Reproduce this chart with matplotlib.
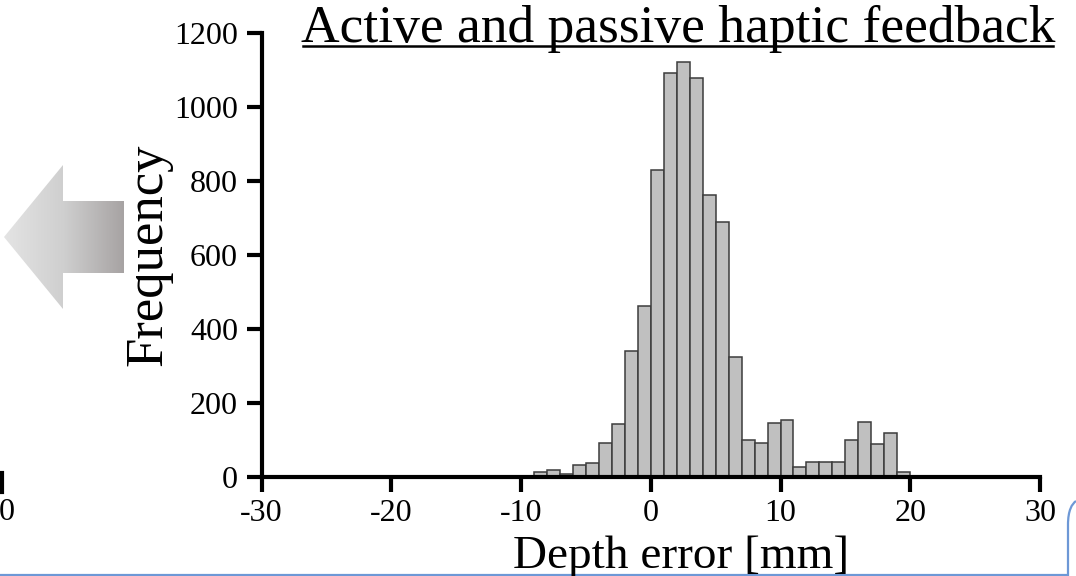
import numpy as np
import matplotlib
matplotlib.use('Agg')
from matplotlib import pyplot as plt
from matplotlib.patches import Polygon, PathPatch
from matplotlib.path import Path
from matplotlib.lines import Line2D

plt.rcParams['font.family'] = ['Liberation Serif', 'DejaVu Serif']
plt.rcParams['axes.unicode_minus'] = False

# 深度误差直方图数据（1 mm 一个区间，给出区间左端）
bin_left = [-9, -8, -7, -6, -5, -4, -3, -2, -1, 0, 1, 2, 3, 4, 5, 6, 7, 8, 9,
            10, 11, 12, 13, 14, 15, 16, 17, 18, 19]
counts = [12, 18, 6, 30, 36, 90, 142, 340, 460, 830, 1092, 1122, 1078, 762,
          688, 322, 100, 90, 145, 154, 25, 40, 40, 40, 100, 148, 88, 118, 12]
x_ticks = [-30, -20, -10, 0, 10, 20, 30]
y_ticks = [0, 200, 400, 600, 800, 1000, 1200]

W, H = 1076, 576


def fx(x):
    return x / W


def fy(y):
    return 1 - y / H


fig = plt.figure(figsize=(W / 100, H / 100), dpi=100)

# 背景层：幻灯片上的灰色箭头和蓝色边框
bg = fig.add_axes([0, 0, 1, 1], zorder=0)
bg.set_xlim(0, W)
bg.set_ylim(H, 0)
bg.axis('off')
arrow = Polygon([(4, 237), (63, 165), (63, 201), (124, 201), (124, 273),
                 (63, 273), (63, 309)], closed=True, facecolor='none',
                edgecolor='none')
bg.add_patch(arrow)
grad = np.linspace(0, 1, 256).reshape(1, -1)
cmap = matplotlib.colors.LinearSegmentedColormap.from_list(
    'g', ['#e4e4e4', '#cfcfcf', '#a7a3a3'])
img = bg.imshow(grad, extent=(4, 124, 309, 165), cmap=cmap, aspect='auto', zorder=1)
img.set_clip_path(arrow)
blue = Path([(0, 575), (1068, 575), (1068, 525), (1068, 510), (1072, 504), (1076, 501)],
            [Path.MOVETO, Path.LINETO, Path.LINETO, Path.CURVE4, Path.CURVE4, Path.CURVE4])
bg.add_patch(PathPatch(blue, facecolor='none', edgecolor='#6d98d6', lw=1.6))
bg.plot([1.5, 1.5], [473, 492], color='black', lw=3)
bg.text(15, 520, '0', fontsize=23, ha='right', va='baseline')

# 直方图
ax = fig.add_axes([fx(261.5), fy(476.5), (1040 - 261.5) / W, (476.5 - 32.7) / H], zorder=2)
ax.patch.set_alpha(0)
ax.bar(bin_left, counts, width=1, align='edge', color='#c0c0c0',
       edgecolor='#3c3c3c', linewidth=1.1)
ax.set_xlim(-30, 30)
ax.set_ylim(0, 1200)
ax.set_xticks(x_ticks)
ax.set_yticks(y_ticks)
ax.spines['top'].set_visible(False)
ax.spines['right'].set_visible(False)
for s in ['left', 'bottom']:
    ax.spines[s].set_linewidth(3)
ax.tick_params(direction='out', length=11, width=3, labelsize=23)
ax.tick_params(axis='x', pad=5)
ax.tick_params(axis='y', pad=6)

# 标题和坐标轴标签
fig.text(fx(678), fy(42), 'Active and passive haptic feedback', fontsize=38.5,
         ha='center', va='baseline')
fig.add_artist(Line2D([fx(303), fx(1053)], [fy(46), fy(46)], color='black', lw=1.8))
fig.text(fx(161), fy(255), 'Frequency', fontsize=38, rotation=90,
         rotation_mode='anchor', ha='center', va='baseline')
fig.text(fx(681), fy(568), 'Depth error [mm]', fontsize=34, ha='center', va='baseline')

plt.savefig('out.png', dpi=100)
